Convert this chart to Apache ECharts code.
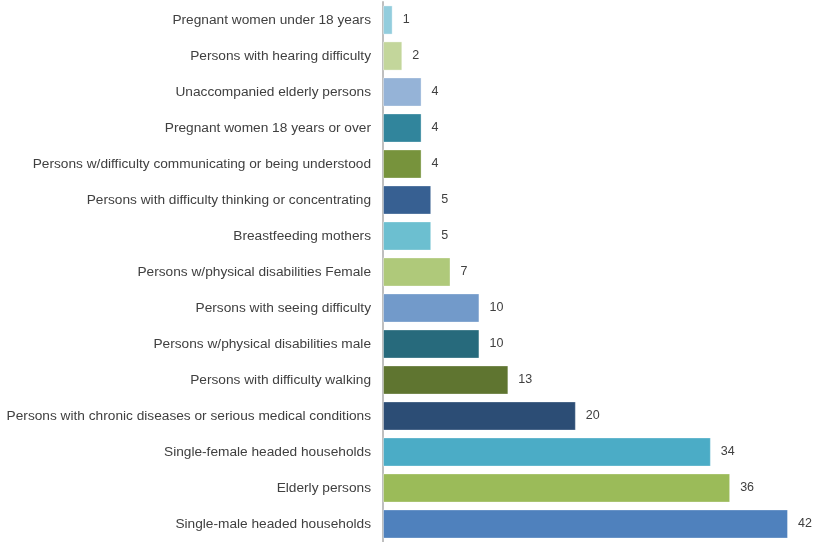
<!DOCTYPE html>
<html><head><meta charset="utf-8">
<script src="https://cdn.jsdelivr.net/npm/echarts@6/dist/echarts.min.js"></script>
<style>html,body{margin:0;padding:0;background:#fff}#c{width:816px;height:542px}</style>
</head><body><div id="c"></div>
<script>
const categories = [
  "Pregnant women under 18 years",
  "Persons with hearing difficulty",
  "Unaccompanied elderly persons",
  "Pregnant women 18 years or over",
  "Persons w/difficulty communicating or being understood",
  "Persons with difficulty thinking or concentrating",
  "Breastfeeding mothers",
  "Persons w/physical disabilities Female",
  "Persons with seeing difficulty",
  "Persons w/physical disabilities male",
  "Persons with difficulty walking",
  "Persons with chronic diseases or serious medical conditions",
  "Single-female headed households",
  "Elderly persons",
  "Single-male headed households"
];
const values = [1, 2, 4, 4, 4, 5, 5, 7, 10, 10, 13, 20, 34, 36, 42];
const colors = ["#93cddd","#c3d69b","#95b3d7","#31859c","#77933c","#376092","#6cbfd0","#afc97a","#729aca","#276a7c","#5f7530","#2c4d75","#4bacc6","#9bbb59","#4f81bd"];

const chart = echarts.init(document.getElementById('c'));
chart.setOption({
  animation: false,
  grid: {left: 383, right: 28, top: 2, bottom: 0, containLabel: false},
  xAxis: {type: 'value', min: 0, max: 42, show: false},
  yAxis: {
    type: 'category', data: categories, inverse: true,
    axisLine: {show: true, lineStyle: {color: '#bfbfbf', width: 2}},
    axisTick: {show: false},
    axisLabel: {color: '#404040', fontSize: 13.7, fontFamily: 'Liberation Sans', margin: 12}
  },
  series: [{
    type: 'bar', barCategoryGap: '19%',
    data: values.map((v, i) => ({value: v, itemStyle: {color: colors[i]}})),
    itemStyle: {borderColor: 'rgba(255,255,255,0.35)', borderWidth: 1},
    label: {show: true, position: 'right', distance: 10, color: '#404040', fontSize: 12.5, fontFamily: 'Liberation Sans'}
  }]
});
</script></body></html>
